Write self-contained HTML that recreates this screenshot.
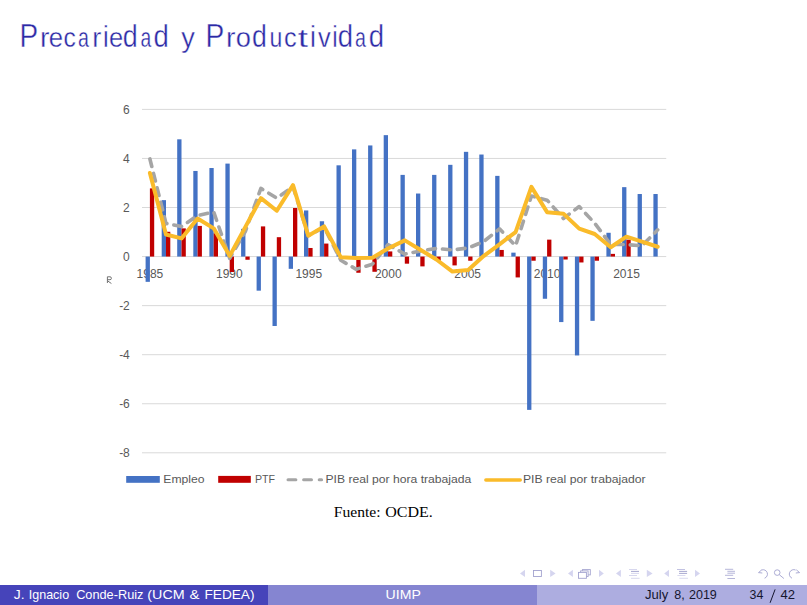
<!DOCTYPE html>
<html><head><meta charset="utf-8">
<style>
html,body{margin:0;padding:0;background:#fff;}
body{width:807px;height:605px;overflow:hidden;position:relative;}
svg{position:absolute;left:0;top:0;}
text{font-family:"Liberation Sans",sans-serif;}
.ax{font-size:12px;fill:#595959;}
.pc{font-size:10px;fill:#666;}
.lg{font-size:11.6px;fill:#595959;}
.ti{font-size:31.6px;fill:#2c2aa6;stroke:#fff;stroke-width:0.4px;}
.fs{font-family:"Liberation Serif",serif;font-size:14.6px;fill:#000;}
.ft{font-size:12.6px;}
.fw{fill:#fff;}
.fb{fill:#15152e;}
</style></head>
<body>
<svg width="807" height="605" viewBox="0 0 807 605">
<text class="ti" transform="translate(19.56,46.8) scale(0.8849,1.0365)">P</text>
<text class="ti" transform="translate(39.91,46.8) scale(0.8987,0.8732)">r</text>
<text class="ti" transform="translate(48.87,46.8) scale(0.8147,0.8908)">e</text>
<text class="ti" transform="translate(63.61,46.8) scale(0.7801,0.8908)">c</text>
<text class="ti" transform="translate(78.12,46.8) scale(0.6207,0.8908)">a</text>
<text class="ti" transform="translate(92.20,46.8) scale(0.8608,0.8732)">r</text>
<text class="ti" transform="translate(103.11,46.8) scale(0.8087,0.9538)">i</text>
<text class="ti" transform="translate(108.98,46.8) scale(0.8080,0.8908)">e</text>
<text class="ti" transform="translate(122.82,46.8) scale(0.8509,0.9933)">d</text>
<text class="ti" transform="translate(140.43,46.8) scale(0.6086,0.8908)">a</text>
<text class="ti" transform="translate(153.50,46.8) scale(0.8720,0.9933)">d</text>
<text class="ti" transform="translate(181.30,46.8) scale(0.8608,0.8897)">y</text>
<text class="ti" transform="translate(205.55,46.8) scale(0.8908,1.0365)">P</text>
<text class="ti" transform="translate(225.91,46.8) scale(0.8987,0.8732)">r</text>
<text class="ti" transform="translate(235.81,46.8) scale(0.8637,0.8908)">o</text>
<text class="ti" transform="translate(252.03,46.8) scale(0.8439,0.9933)">d</text>
<text class="ti" transform="translate(269.62,46.8) scale(0.7286,0.8897)">u</text>
<text class="ti" transform="translate(284.09,46.8) scale(0.8022,0.8908)">c</text>
<text class="ti" transform="translate(297.73,46.8) scale(1.1685,0.8374)">t</text>
<text class="ti" transform="translate(310.03,46.8) scale(0.8439,0.9538)">i</text>
<text class="ti" transform="translate(318.10,46.8) scale(0.8038,0.8897)">v</text>
<text class="ti" transform="translate(332.19,46.8) scale(0.7736,0.9538)">i</text>
<text class="ti" transform="translate(337.70,46.8) scale(0.8720,0.9933)">d</text>
<text class="ti" transform="translate(355.12,46.8) scale(0.6207,0.8908)">a</text>
<text class="ti" transform="translate(368.70,46.8) scale(0.8720,0.9933)">d</text>
<line x1="142.00" y1="109.39" x2="666.24" y2="109.39" stroke="#d9d9d9" stroke-width="1"/>
<line x1="142.00" y1="158.45" x2="666.24" y2="158.45" stroke="#d9d9d9" stroke-width="1"/>
<line x1="142.00" y1="207.51" x2="666.24" y2="207.51" stroke="#d9d9d9" stroke-width="1"/>
<line x1="142.00" y1="256.57" x2="666.24" y2="256.57" stroke="#d9d9d9" stroke-width="1"/>
<line x1="142.00" y1="305.63" x2="666.24" y2="305.63" stroke="#d9d9d9" stroke-width="1"/>
<line x1="142.00" y1="354.69" x2="666.24" y2="354.69" stroke="#d9d9d9" stroke-width="1"/>
<line x1="142.00" y1="403.75" x2="666.24" y2="403.75" stroke="#d9d9d9" stroke-width="1"/>
<line x1="142.00" y1="452.81" x2="666.24" y2="452.81" stroke="#d9d9d9" stroke-width="1"/>
<text x="129.8" y="113.69" text-anchor="end" class="ax">6</text>
<text x="129.8" y="162.75" text-anchor="end" class="ax">4</text>
<text x="129.8" y="211.81" text-anchor="end" class="ax">2</text>
<text x="129.8" y="260.87" text-anchor="end" class="ax">0</text>
<text x="129.8" y="309.93" text-anchor="end" class="ax">-2</text>
<text x="129.8" y="358.99" text-anchor="end" class="ax">-4</text>
<text x="129.8" y="408.05" text-anchor="end" class="ax">-6</text>
<text x="129.8" y="457.11" text-anchor="end" class="ax">-8</text>
<text x="149.94" y="278.2" text-anchor="middle" class="ax">1985</text>
<text x="229.37" y="278.2" text-anchor="middle" class="ax">1990</text>
<text x="308.80" y="278.2" text-anchor="middle" class="ax">1995</text>
<text x="388.23" y="278.2" text-anchor="middle" class="ax">2000</text>
<text x="467.66" y="278.2" text-anchor="middle" class="ax">2005</text>
<text x="547.09" y="278.2" text-anchor="middle" class="ax">2010</text>
<text x="626.52" y="278.2" text-anchor="middle" class="ax">2015</text>
<path d="M107.4,283.0 V276.8 H110.0 Q111.4,276.8 111.4,278.3 Q111.4,279.7 110.0,279.7 H107.4 M107.8,281.0 L111.4,283.5" fill="none" stroke="#6b6b6b" stroke-width="0.95"/>
<rect x="145.60" y="256.57" width="4.3" height="25.27" fill="#4472c4"/>
<rect x="149.90" y="188.38" width="4.3" height="68.19" fill="#c00000"/>
<rect x="161.70" y="200.15" width="4.3" height="56.42" fill="#4472c4"/>
<rect x="166.00" y="231.79" width="4.3" height="24.78" fill="#c00000"/>
<rect x="177.20" y="139.32" width="4.3" height="117.25" fill="#4472c4"/>
<rect x="181.50" y="228.36" width="4.3" height="28.21" fill="#c00000"/>
<rect x="193.30" y="170.96" width="4.3" height="85.61" fill="#4472c4"/>
<rect x="197.60" y="225.91" width="4.3" height="30.66" fill="#c00000"/>
<rect x="209.40" y="168.02" width="4.3" height="88.55" fill="#4472c4"/>
<rect x="213.70" y="233.27" width="4.3" height="23.30" fill="#c00000"/>
<rect x="225.40" y="163.60" width="4.3" height="92.97" fill="#4472c4"/>
<rect x="229.70" y="256.57" width="4.3" height="15.45" fill="#c00000"/>
<rect x="241.10" y="228.85" width="4.3" height="27.72" fill="#4472c4"/>
<rect x="245.40" y="256.57" width="4.3" height="3.19" fill="#c00000"/>
<rect x="256.60" y="256.57" width="4.3" height="34.10" fill="#4472c4"/>
<rect x="260.90" y="226.40" width="4.3" height="30.17" fill="#c00000"/>
<rect x="272.50" y="256.57" width="4.3" height="69.42" fill="#4472c4"/>
<rect x="276.80" y="237.19" width="4.3" height="19.38" fill="#c00000"/>
<rect x="288.70" y="256.57" width="4.3" height="12.26" fill="#4472c4"/>
<rect x="293.00" y="208.00" width="4.3" height="48.57" fill="#c00000"/>
<rect x="304.00" y="210.45" width="4.3" height="46.12" fill="#4472c4"/>
<rect x="308.30" y="247.98" width="4.3" height="8.59" fill="#c00000"/>
<rect x="319.80" y="221.25" width="4.3" height="35.32" fill="#4472c4"/>
<rect x="324.10" y="243.57" width="4.3" height="13.00" fill="#c00000"/>
<rect x="336.50" y="165.32" width="4.3" height="91.25" fill="#4472c4"/>
<rect x="352.00" y="149.37" width="4.3" height="107.20" fill="#4472c4"/>
<rect x="356.30" y="256.57" width="4.3" height="16.19" fill="#c00000"/>
<rect x="368.10" y="145.45" width="4.3" height="111.12" fill="#4472c4"/>
<rect x="372.40" y="256.57" width="4.3" height="15.21" fill="#c00000"/>
<rect x="383.70" y="135.15" width="4.3" height="121.42" fill="#4472c4"/>
<rect x="388.00" y="251.42" width="4.3" height="5.15" fill="#c00000"/>
<rect x="400.50" y="174.89" width="4.3" height="81.68" fill="#4472c4"/>
<rect x="404.80" y="256.57" width="4.3" height="7.11" fill="#c00000"/>
<rect x="416.00" y="193.53" width="4.3" height="63.04" fill="#4472c4"/>
<rect x="420.30" y="256.57" width="4.3" height="9.81" fill="#c00000"/>
<rect x="432.10" y="174.89" width="4.3" height="81.68" fill="#4472c4"/>
<rect x="436.40" y="256.57" width="4.3" height="4.17" fill="#c00000"/>
<rect x="448.15" y="164.83" width="4.3" height="91.74" fill="#4472c4"/>
<rect x="452.45" y="256.57" width="4.3" height="8.83" fill="#c00000"/>
<rect x="463.90" y="151.83" width="4.3" height="104.74" fill="#4472c4"/>
<rect x="468.20" y="256.57" width="4.3" height="4.17" fill="#c00000"/>
<rect x="479.30" y="154.53" width="4.3" height="102.04" fill="#4472c4"/>
<rect x="495.20" y="175.87" width="4.3" height="80.70" fill="#4472c4"/>
<rect x="499.50" y="249.95" width="4.3" height="6.62" fill="#c00000"/>
<rect x="511.30" y="252.65" width="4.3" height="3.92" fill="#4472c4"/>
<rect x="515.60" y="256.57" width="4.3" height="20.85" fill="#c00000"/>
<rect x="527.10" y="256.57" width="4.3" height="153.31" fill="#4472c4"/>
<rect x="531.40" y="256.57" width="4.3" height="4.17" fill="#c00000"/>
<rect x="542.80" y="256.57" width="4.3" height="42.19" fill="#4472c4"/>
<rect x="547.10" y="239.64" width="4.3" height="16.93" fill="#c00000"/>
<rect x="559.10" y="256.57" width="4.3" height="65.50" fill="#4472c4"/>
<rect x="563.40" y="256.57" width="4.3" height="2.94" fill="#c00000"/>
<rect x="574.90" y="256.57" width="4.3" height="98.86" fill="#4472c4"/>
<rect x="579.20" y="256.57" width="4.3" height="5.89" fill="#c00000"/>
<rect x="590.40" y="256.57" width="4.3" height="64.27" fill="#4472c4"/>
<rect x="594.70" y="256.57" width="4.3" height="4.17" fill="#c00000"/>
<rect x="606.40" y="232.78" width="4.3" height="23.79" fill="#4472c4"/>
<rect x="610.70" y="253.87" width="4.3" height="2.70" fill="#c00000"/>
<rect x="622.10" y="187.15" width="4.3" height="69.42" fill="#4472c4"/>
<rect x="626.40" y="239.64" width="4.3" height="16.93" fill="#c00000"/>
<rect x="637.60" y="194.02" width="4.3" height="62.55" fill="#4472c4"/>
<rect x="653.40" y="194.02" width="4.3" height="62.55" fill="#4472c4"/>
<polyline points="149.90,158.94 166.00,223.45 181.50,226.40 197.60,215.60 213.70,211.93 229.70,258.29 245.40,231.30 260.90,188.38 276.80,198.19 293.00,186.66 308.30,235.72 324.10,227.13 340.80,260.25 356.30,269.33 372.40,264.17 388.00,244.55 404.80,254.12 420.30,250.93 436.40,248.48 452.45,249.95 468.20,247.98 483.60,241.61 499.50,228.85 515.60,245.78 531.40,195.98 547.10,200.15 563.40,218.55 579.20,206.53 594.70,223.21 610.70,244.55 626.40,244.55 641.90,245.78 657.70,229.83" fill="none" stroke="#a5a5a5" stroke-width="3.6" stroke-dasharray="7.8 7.1" stroke-linecap="round" stroke-linejoin="round"/>
<polyline points="149.90,172.92 166.00,234.49 181.50,238.42 197.60,218.55 213.70,228.36 229.70,255.83 245.40,226.89 260.90,198.19 276.80,210.70 293.00,185.19 308.30,235.72 324.10,226.40 340.80,257.31 356.30,258.04 372.40,257.80 388.00,248.48 404.80,240.38 420.30,249.70 436.40,259.51 452.45,271.53 468.20,270.06 483.60,256.08 499.50,244.31 515.60,232.04 531.40,186.90 547.10,212.17 563.40,213.64 579.20,228.61 594.70,234.00 610.70,247.25 626.40,236.70 641.90,241.61 657.70,246.76" fill="none" stroke="#fabb2a" stroke-width="4.0" stroke-linecap="round" stroke-linejoin="round"/>
<rect x="126.2" y="476.0" width="33.6" height="6.8" fill="#4472c4"/>
<text x="163.33" y="482.6" class="lg" textLength="41.27" lengthAdjust="spacingAndGlyphs">Empleo</text>
<rect x="218.2" y="475.9" width="32.6" height="6.9" fill="#c00000"/>
<text x="254.95" y="482.6" class="lg" textLength="20.06" lengthAdjust="spacingAndGlyphs">PTF</text>
<line x1="288" y1="479.7" x2="321.6" y2="479.7" stroke="#a5a5a5" stroke-width="3" stroke-dasharray="7.9 7.7" stroke-linecap="round"/>
<text x="325.43" y="482.6" class="lg" textLength="145.93" lengthAdjust="spacingAndGlyphs">PIB real por hora trabajada</text>
<line x1="485.9" y1="479.95" x2="520.2" y2="479.95" stroke="#fabb2a" stroke-width="3.6" stroke-linecap="round"/>
<text x="522.92" y="482.6" class="lg" textLength="122.70" lengthAdjust="spacingAndGlyphs">PIB real por trabajador</text>
<text x="333.83" y="516.8" class="fs" textLength="46.71" lengthAdjust="spacingAndGlyphs">Fuente:</text>
<text x="385.26" y="516.8" class="fs" textLength="47.60" lengthAdjust="spacingAndGlyphs">OCDE.</text>
<polygon points="525.0,569.8 525.0,577.0 520.0,573.4" fill="#d5d5ef"/>
<polygon points="550.2,569.8 550.2,577.0 555.6,573.4" fill="#d5d5ef"/>
<rect x="533.5" y="570.5" width="7.9" height="6.0" fill="none" stroke="#a3a3cf" stroke-width="0.9"/>
<polygon points="572.9,569.8 572.9,577.0 568.0,573.4" fill="#d5d5ef"/>
<polygon points="599.0,569.8 599.0,577.0 603.8,573.4" fill="#d5d5ef"/>
<rect x="582.4" y="569.6" width="7.9" height="5.3" fill="#fff" stroke="#a3a3cf" stroke-width="0.9"/>
<rect x="580.6" y="570.9" width="7.5" height="5.6" fill="#fff" stroke="#a3a3cf" stroke-width="0.9"/>
<rect x="578.5" y="572.4" width="7.9" height="5.9" fill="#fff" stroke="#a3a3cf" stroke-width="0.9"/>
<polygon points="620.9,569.8 620.9,577.0 616.0,573.4" fill="#d5d5ef"/>
<polygon points="646.8,569.8 646.8,577.0 652.6,573.4" fill="#d5d5ef"/>
<path d="M629,569.5 h8 M631,573.4 h8 M629,575.5 h8 M631,578.3 h8.6" stroke="#cdcdea" stroke-width="0.8" fill="none"/>
<path d="M631,571.4 h8" stroke="#9d9dcb" stroke-width="0.9" fill="none"/>
<polygon points="669.0,569.8 669.0,577.0 664.2,573.4" fill="#d5d5ef"/>
<polygon points="695.0,569.8 695.0,577.0 700.0,573.4" fill="#d5d5ef"/>
<path d="M677.4,575.5 h8 M679.4,578.3 h8.6" stroke="#d2d2ec" stroke-width="0.8" fill="none"/>
<path d="M677.0,569.5 h8" stroke="#b3b3da" stroke-width="0.8" fill="none"/>
<path d="M679.1,571.4 h8 M679.1,573.4 h8" stroke="#9d9dcb" stroke-width="0.9" fill="none"/>
<path d="M725,569.3 h8.2 M727.4,571.3 h7.6 M727.4,573.2 h7.6 M725,575.3 h8.2 M727.4,578.5 h7.6" stroke="#a3a3cf" stroke-width="0.8" fill="none"/>
<g fill="none" stroke="#a3a3cf" stroke-width="0.9"><path d="M761.6,570.0 A4.3,4.3 0 1 1 764.6,578.2"/><path d="M758.5,572.6 L761.8,569.8 M758.5,572.6 L762.3,573.0"/><circle cx="777.2" cy="572.6" r="2.8"/><path d="M779.3,574.7 L783.9,578.5"/><path d="M795.6,570.0 A4.3,4.3 0 1 0 792.0,578.2"/><path d="M799.6,572.6 L796.3,569.8 M799.6,572.6 L795.8,573.0"/></g>
<rect x="0" y="585" width="268" height="20" fill="#4644ba"/>
<rect x="268" y="585" width="269" height="20" fill="#8585d1"/>
<rect x="537" y="585" width="270" height="20" fill="#adade0"/>
<text x="13.82" y="598.7" class="ft fw" textLength="10.80" lengthAdjust="spacingAndGlyphs">J.</text>
<text x="28.77" y="598.7" class="ft fw" textLength="40.36" lengthAdjust="spacingAndGlyphs">Ignacio</text>
<text x="76.16" y="598.7" class="ft fw" textLength="67.27" lengthAdjust="spacingAndGlyphs">Conde-Ruiz</text>
<text x="147.34" y="598.7" class="ft fw" textLength="37.31" lengthAdjust="spacingAndGlyphs">(UCM</text>
<text x="189.45" y="598.7" class="ft fw" textLength="10.01" lengthAdjust="spacingAndGlyphs">&amp;</text>
<text x="204.51" y="598.7" class="ft fw" textLength="50.00" lengthAdjust="spacingAndGlyphs">FEDEA)</text>
<text x="385.57" y="598.7" class="ft fw" textLength="35.23" lengthAdjust="spacingAndGlyphs">UIMP</text>
<text x="644.94" y="598.7" class="ft fb" textLength="23.24" lengthAdjust="spacingAndGlyphs">July</text>
<text x="674.20" y="598.7" class="ft fb" textLength="10.45" lengthAdjust="spacingAndGlyphs">8,</text>
<text x="688.97" y="598.7" class="ft fb" textLength="27.88" lengthAdjust="spacingAndGlyphs">2019</text>
<text x="749.50" y="598.7" class="ft fb" textLength="13.77" lengthAdjust="spacingAndGlyphs">34</text>
<text x="780.44" y="598.7" class="ft fb" textLength="14.51" lengthAdjust="spacingAndGlyphs">42</text>
<path d="M775.1,589.4 L770.1,602.8" stroke="#15152e" stroke-width="1.0"/>
</svg>
</body></html>
